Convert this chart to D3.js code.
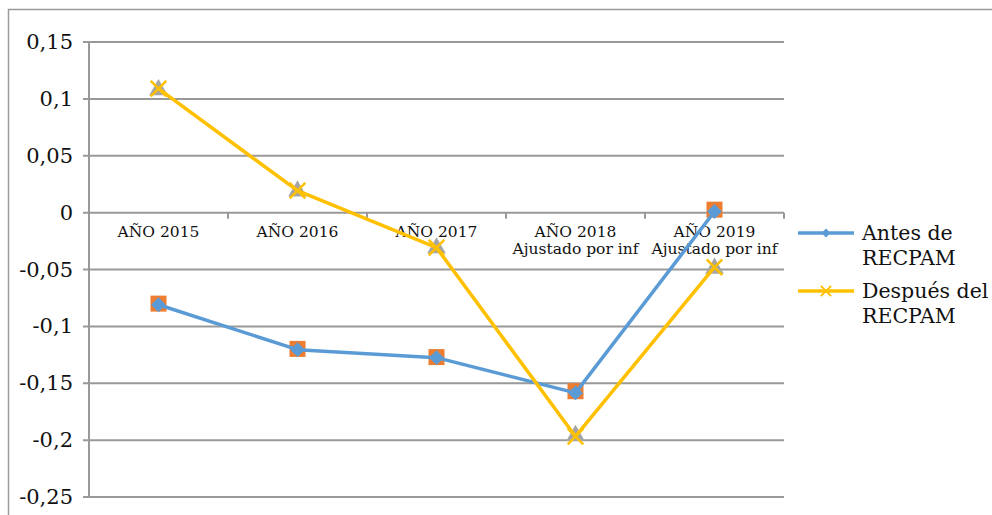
<!DOCTYPE html>
<html><head><meta charset="utf-8">
<script src="https://cdn.jsdelivr.net/npm/d3@7/dist/d3.min.js"></script>
<style>body{margin:0;background:#fff;}svg{display:block;} text{font-family:"DejaVu Serif";}</style>
</head><body><svg id="c" width="992" height="515"></svg>
<script>
const categories = [["AÑO 2015"],["AÑO 2016"],["AÑO 2017"],["AÑO 2018","Ajustado por inf"],["AÑO 2019","Ajustado por inf"]];
const antes = [-0.081, -0.1205, -0.1275, -0.1585, 0.001];
const antesSq = [-0.080, -0.1198, -0.127, -0.157, 0.0026];
const despues = [0.109, 0.0193, -0.0308, -0.1968, -0.048];
const despuesTri = [0.108, 0.019, -0.031, -0.196, -0.049];
const yTicks = [0.15, 0.1, 0.05, 0, -0.05, -0.1, -0.15, -0.2, -0.25];
const legendNames = [["Antes de","RECPAM"],["Después del","RECPAM"]];

const svg = d3.select("#c");
const L = 89, R = 784, T = 42, B = 497;
const x = d3.scaleBand().domain(d3.range(categories.length)).range([L, R]);
const y = d3.scaleLinear().domain([-0.25, 0.15]).range([B, T]);
const cx = i => x(i) + x.bandwidth()/2;

svg.append("rect").attr("x",8.5).attr("y",9.5).attr("width",1000).attr("height",520)
  .attr("fill","none").attr("stroke","#9a9a9a").attr("stroke-width",1.5);

svg.append("g").selectAll("line").data(yTicks).join("line")
  .attr("x1",L-6).attr("x2",R).attr("y1",d=>y(d)).attr("y2",d=>y(d))
  .attr("stroke","#999").attr("stroke-width",2);
svg.append("line").attr("x1",L).attr("x2",L).attr("y1",T).attr("y2",B).attr("stroke","#999").attr("stroke-width",2);
svg.append("g").selectAll("text").data(yTicks).join("text")
  .attr("x",L-16).attr("y",d=>y(d)+7).attr("text-anchor","end")
  .attr("font-size",21).attr("fill","#111")
  .text(d => d===0 ? "0" : d.toString().replace(".",","));
const bounds = d3.range(categories.length+1).map(i => L + i*x.step());
svg.append("g").selectAll("line").data(bounds).join("line")
  .attr("x1",d=>d).attr("x2",d=>d).attr("y1",y(0)).attr("y2",y(0)+6)
  .attr("stroke","#999").attr("stroke-width",2);
const cl = svg.append("g").selectAll("text").data(categories).join("text")
  .attr("text-anchor","middle").attr("font-size",15.5).attr("fill","#111");
cl.each(function(d,i){
  d3.select(this).selectAll("tspan").data(d).join("tspan")
    .attr("x",cx(i)).attr("y",(t,j)=>y(0)+24+j*17).text(t=>t);
});

const line = d3.line().x((d,i)=>cx(i)).y(d=>y(d));
svg.append("g").selectAll("rect").data(antesSq).join("rect")
  .attr("x",(d,i)=>cx(i)-8).attr("y",d=>y(d)-8).attr("width",16).attr("height",16).attr("fill","#ED7D31");
svg.append("g").selectAll("path").data(despuesTri).join("path")
  .attr("d",d3.symbol(d3.symbolTriangle,150)).attr("transform",(d,i)=>`translate(${cx(i)},${y(d)})`).attr("fill","#A5A5A5");

svg.append("path").datum(antes).attr("d",line).attr("fill","none").attr("stroke","#5B9BD5").attr("stroke-width",3.5).attr("stroke-linejoin","round");
svg.append("g").selectAll("path").data(antes).join("path")
  .attr("d",d3.symbol(d3.symbolDiamond2,140)).attr("transform",(d,i)=>`translate(${cx(i)},${y(d)})`).attr("fill","#5B9BD5");
svg.append("path").datum(despues).attr("d",line).attr("fill","none").attr("stroke","#FFC000").attr("stroke-width",3.5).attr("stroke-linejoin","round");
svg.append("g").selectAll("path").data(despues).join("path")
  .attr("d",d3.symbol(d3.symbolX,160)).attr("transform",(d,i)=>`translate(${cx(i)},${y(d)})`)
  .attr("fill","none").attr("stroke","#FFC000").attr("stroke-width",2.5);

const leg = [{c:"#5B9BD5",y:233,m:"d"},{c:"#FFC000",y:291,m:"x"}];
leg.forEach((l,k)=>{
  svg.append("line").attr("x1",798).attr("x2",854).attr("y1",l.y).attr("y2",l.y).attr("stroke",l.c).attr("stroke-width",3.5);
  if(l.m==="d") svg.append("path").attr("d",d3.symbol(d3.symbolDiamond2,50)).attr("transform",`translate(826,${l.y})`).attr("fill",l.c);
  else svg.append("path").attr("d",d3.symbol(d3.symbolX,70)).attr("transform",`translate(826,${l.y})`).attr("fill","none").attr("stroke",l.c).attr("stroke-width",2);
  const t = svg.append("text").attr("font-size",20.5).attr("fill","#111");
  t.selectAll("tspan").data(legendNames[k]).join("tspan").attr("x",862).attr("y",(s,j)=>l.y+7+j*25).text(s=>s);
});
</script></body></html>
